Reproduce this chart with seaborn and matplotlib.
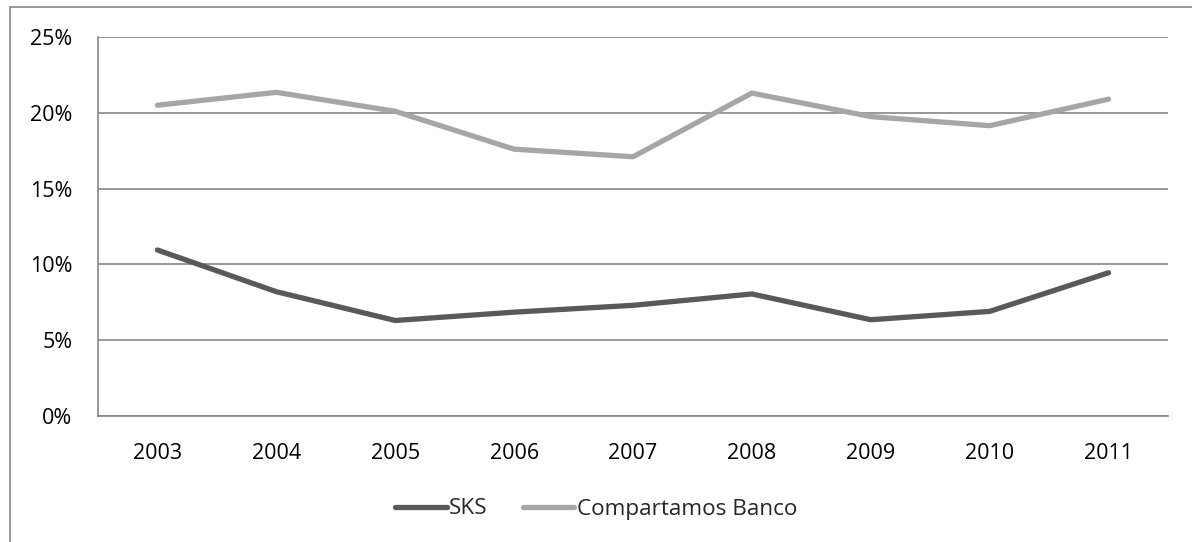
import matplotlib
matplotlib.use("Agg")
import matplotlib.pyplot as plt
import matplotlib.patches as mpatches
import seaborn as sns
import pandas as pd
import numpy as np

years = ["2003", "2004", "2005", "2006", "2007", "2008", "2009", "2010", "2011"]
sks = [10.95, 8.2, 6.3, 6.85, 7.3, 8.05, 6.35, 6.9, 9.45]
compartamos = [20.5, 21.35, 20.1, 17.6, 17.1, 21.3, 19.75, 19.15, 20.9]
series_names = ["SKS", "Compartamos Banco"]
yticks = [0, 5, 10, 15, 20, 25]
ytick_labels = ["0%", "5%", "10%", "15%", "20%", "25%"]

df = pd.DataFrame({
    "year": years * 2,
    "x": list(range(len(years))) * 2,
    "value": sks + compartamos,
    "series": [series_names[0]] * len(years) + [series_names[1]] * len(years),
})

sns.set_theme(style="white")
plt.rcParams["font.family"] = ["Open Sans", "DejaVu Sans"]

fig = plt.figure(figsize=(11.92, 5.42), dpi=100)
ax = fig.add_axes([98 / 1192, 1 - 416 / 542, (1168 - 98) / 1192, (416 - 37) / 542])

grid_col = "#868686"
sns.lineplot(data=df, x="x", y="value", hue="series",
             palette={"SKS": "#595959", "Compartamos Banco": "#a6a6a6"},
             linewidth=3.8, ax=ax, legend=True)
for ln in ax.lines:
    ln.set_solid_capstyle("round")

ax.set_xlim(-0.5, len(years) - 0.5)
ax.set_ylim(0, 25)
ax.set_yticks(yticks)
ax.set_yticklabels(ytick_labels)
ax.set_xticks(range(len(years)))
ax.set_xticklabels(years)
ax.set_xlabel("")
ax.set_ylabel("")
ax.grid(axis="y", color=grid_col, linewidth=1.2)
ax.set_axisbelow(True)
for s in ["top", "right"]:
    ax.spines[s].set_visible(False)
for s in ["left", "bottom"]:
    ax.spines[s].set_color(grid_col)
    ax.spines[s].set_linewidth(1.2)
ax.tick_params(axis="both", length=0, labelsize=15.5, colors="black")
ax.tick_params(axis="y", pad=18.5)
ax.tick_params(axis="x", pad=19.5)

handles, labels = ax.get_legend_handles_labels()
leg = ax.legend(handles, labels, loc="center", bbox_to_anchor=(0.5, 1 - 509 / 542),
                bbox_transform=fig.transFigure, ncol=2, frameon=False,
                fontsize=16.2, handlelength=2.3, handletextpad=0.1, columnspacing=1.55)
for h in leg.get_lines():
    h.set_linewidth(3.8)
    h.set_solid_capstyle("round")

border = mpatches.Rectangle((10 / 1192, -0.05), 1.1, 1 - 7 / 542 + 0.05,
                            transform=fig.transFigure, fill=False,
                            edgecolor=grid_col, linewidth=1.2, clip_on=False)
fig.patches.append(border)

fig.savefig("out.png", dpi=100, facecolor="white")
